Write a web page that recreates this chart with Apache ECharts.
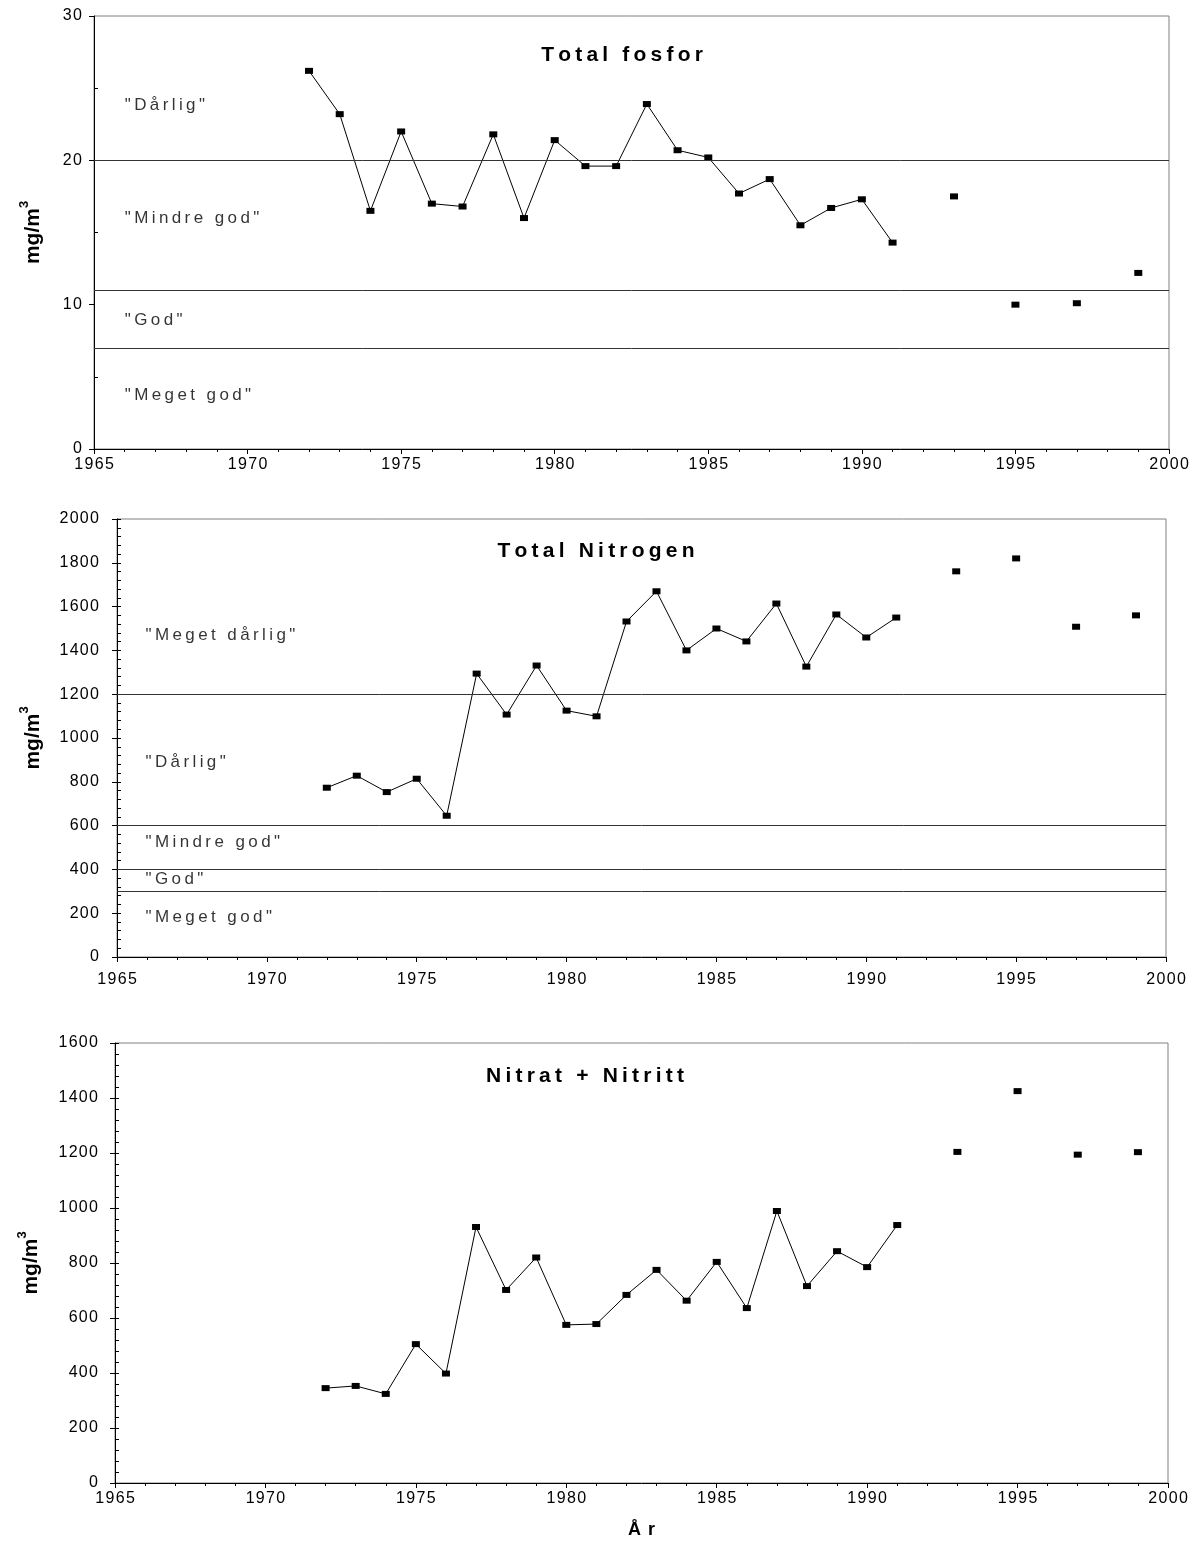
<!DOCTYPE html>
<html>
<head>
<meta charset="utf-8">
<script src="https://cdn.jsdelivr.net/npm/echarts@6/dist/echarts.min.js"></script>
<style>
  html, body { margin: 0; padding: 0; background: #fff; }
  #chart { width: 1197px; height: 1549px; }
</style>
</head>
<body>
<div id="chart"></div>
<script>
// years with a connected line, and the later single samples
const lineYears = [1972, 1973, 1974, 1975, 1976, 1977, 1978, 1979, 1980, 1981,
                   1982, 1983, 1984, 1985, 1986, 1987, 1988, 1989, 1990, 1991];
const lateYears = [1993, 1995, 1997, 1999];

// Total fosfor (mg/m3)
const fosfor = [26.2, 23.2, 16.5, 22.0, 17.0, 16.8, 21.8, 16.0, 21.4, 19.6,
                19.6, 23.9, 20.7, 20.2, 17.7, 18.7, 15.5, 16.7, 17.3, 14.3];
const fosforLate = [17.5, 10.0, 10.1, 12.2];
const fosforLimits = [20, 11, 7];
const fosforZones = [['"Dårlig"', 23.8], ['"Mindre god"', 16.0], ['"God"', 8.9], ['"Meget god"', 3.7]];

// Total Nitrogen (mg/m3)
const nitrogen = [773, 828, 753, 814, 645, 1294, 1107, 1331, 1125, 1099,
                  1532, 1670, 1400, 1500, 1441, 1614, 1326, 1564, 1459, 1550];
const nitrogenLate = [1761, 1820, 1508, 1560];
const nitrogenLimits = [1200, 600, 400, 300];
const nitrogenZones = [['"Meget dårlig"', 1467], ['"Dårlig"', 890], ['"Mindre god"', 525],
                       ['"God"', 356], ['"Meget god"', 182]];

// Nitrat + Nitritt (mg/m3)
const nitrat = [345, 353, 324, 505, 398, 931, 702, 820, 575, 578,
                684, 775, 663, 804, 636, 989, 716, 843, 785, 938];
const nitratLate = [1204, 1425, 1194, 1203];

const titles = ['Total fosfor', 'Total Nitrogen', 'Nitrat + Nitritt'];

const FONT = 'Liberation Sans';
const sp = (s, gap) => String(s).split('').join(gap);
const pairs = (xs, ys) => xs.map((x, i) => [x, ys[i]]);

const grids = [
  { left: 94, top: 16, width: 1075, height: 433 },
  { left: 117, top: 519, width: 1049, height: 438 },
  { left: 115, top: 1043, width: 1053, height: 440 }
];
const yCfg = [
  { max: 30, interval: 10, minor: 2, majorInside: false, labelMargin: 12, nameGap: 50 },
  { max: 2000, interval: 200, minor: 5, majorInside: true, labelMargin: 18, nameGap: 73 },
  { max: 1600, interval: 200, minor: 5, majorInside: true, labelMargin: 17, nameGap: 73 }
];
const xLabelMargin = [8, 15, 8];

const xAxis = grids.map((g, i) => ({
  type: 'value', gridIndex: i, min: 1965, max: 2000, interval: 5,
  axisLine: { lineStyle: { color: '#000', width: 1 } },
  axisTick: { length: 5, lineStyle: { color: '#000' } },
  minorTick: { show: true, splitNumber: 5, length: 3, lineStyle: { color: '#000' } },
  splitLine: { show: false },
  axisLabel: { color: '#000', fontFamily: FONT, fontSize: 16, margin: xLabelMargin[i],
               formatter: v => sp(v, '\u200A') },
  name: i === 2 ? sp('År', '\u2009\u2009') : '',
  nameLocation: 'middle', nameGap: 38,
  nameTextStyle: { color: '#000', fontFamily: FONT, fontSize: 18, fontWeight: 'bold' }
}));

const yAxis = [];
yCfg.forEach((c, i) => {
  yAxis.push({
    type: 'value', gridIndex: i, min: 0, max: c.max, interval: c.interval,
    axisLine: { show: true, lineStyle: { color: '#000', width: 1 } },
    axisTick: { show: true, length: 5, lineStyle: { color: '#000' } },
    splitLine: { show: false },
    axisLabel: { color: '#000', fontFamily: FONT, fontSize: 16, margin: c.labelMargin,
                 formatter: v => sp(v, '\u200A') },
    name: '{a|mg/m}{b|3}', nameLocation: 'middle', nameGap: c.nameGap,
    nameTextStyle: {
      color: '#000', fontFamily: FONT,
      rich: {
        a: { fontSize: 21, fontWeight: 'bold', fontFamily: FONT, color: '#000', lineHeight: 26, verticalAlign: 'bottom' },
        b: { fontSize: 13, fontWeight: 'bold', fontFamily: FONT, color: '#000', lineHeight: 26, verticalAlign: 'top' }
      }
    }
  });
  // overlay axis for the inward minor ticks
  yAxis.push({
    type: 'value', gridIndex: i, min: 0, max: c.max, interval: c.interval, position: 'left',
    axisLine: { show: false },
    axisTick: { show: c.majorInside, inside: true, length: 4, lineStyle: { color: '#000' } },
    minorTick: { show: true, splitNumber: c.minor, length: 4, lineStyle: { color: '#000' } },
    splitLine: { show: false }, minorSplitLine: { show: false },
    axisLabel: { show: false }
  });
});

function limitLines(vals) {
  return {
    silent: true, symbol: 'none', label: { show: false },
    lineStyle: { color: '#333', width: 1, type: 'solid' },
    data: vals.map(v => ({ yAxis: v }))
  };
}

function zoneSeries(i, zones, x) {
  return {
    type: 'scatter', xAxisIndex: i, yAxisIndex: i * 2, symbolSize: 0, silent: true,
    data: zones.map(z => [x, z[1], z[0]]),
    label: { show: true, position: 'right', distance: 0, color: '#000', fontFamily: FONT, fontSize: 17,
             formatter: p => sp(p.data[2], '\u2009') }
  };
}

const marker = { symbol: 'rect', symbolSize: [8, 6], itemStyle: { color: '#000', opacity: 1 } };

function dataSeries(i, vals, late, limits) {
  const s = [{
    type: 'line', xAxisIndex: i, yAxisIndex: i * 2, data: pairs(lineYears, vals),
    ...marker, showSymbol: true, lineStyle: { color: '#000', width: 1 }, z: 3
  }, {
    type: 'scatter', xAxisIndex: i, yAxisIndex: i * 2, data: pairs(lateYears, late), ...marker, z: 3
  }];
  if (limits) s[0].markLine = limitLines(limits);
  return s;
}

const series = [
  ...dataSeries(0, fosfor, fosforLate, fosforLimits),
  zoneSeries(0, fosforZones, 1966.0),
  ...dataSeries(1, nitrogen, nitrogenLate, nitrogenLimits),
  zoneSeries(1, nitrogenZones, 1965.95),
  ...dataSeries(2, nitrat, nitratLate, null)
];

const titlePos = [[617, 40], [591, 536], [580, 1061]];

const chart = echarts.init(document.getElementById('chart'), null, { renderer: 'canvas' });
chart.setOption({
  animation: false,
  backgroundColor: '#fff',
  title: titles.map((t, i) => ({
    text: sp(t, '\u2009'), left: titlePos[i][0], top: titlePos[i][1], textAlign: 'center',
    textStyle: { color: '#000', fontFamily: FONT, fontSize: 21, fontWeight: 'bold' }
  })),
  grid: grids.map(g => ({ ...g, show: true, borderColor: '#808080', borderWidth: 1, backgroundColor: 'transparent' })),
  xAxis: xAxis,
  yAxis: yAxis,
  series: series
});
</script>
</body>
</html>
